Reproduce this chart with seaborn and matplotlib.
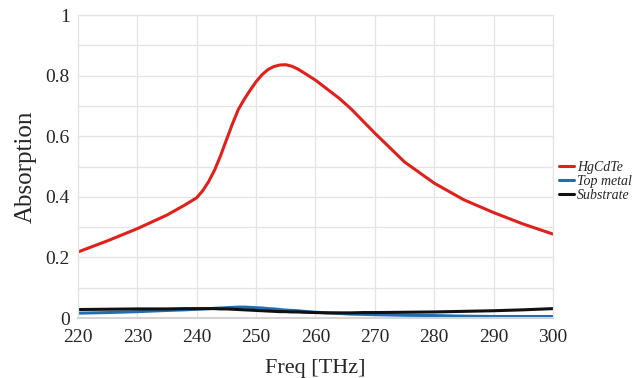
import matplotlib
matplotlib.use("Agg")
import matplotlib.pyplot as plt
from matplotlib.ticker import FuncFormatter, MultipleLocator
import pandas as pd
import seaborn as sns

freq = [220, 225, 230, 235, 238, 240, 241, 242, 243, 244, 245, 246, 247, 248,
        249, 250, 251, 252, 253, 254, 255, 256, 257, 258, 260, 262, 264, 266,
        268, 270, 275, 280, 285, 290, 295, 300]
hgcdte = [0.218, 0.255, 0.295, 0.340, 0.373, 0.397, 0.420, 0.450, 0.488, 0.535,
          0.588, 0.640, 0.688, 0.722, 0.752, 0.780, 0.803, 0.820, 0.830, 0.835,
          0.836, 0.831, 0.822, 0.810, 0.785, 0.755, 0.725, 0.690, 0.650, 0.610,
          0.515, 0.445, 0.390, 0.348, 0.310, 0.277]
top_metal = [0.016, 0.018, 0.021, 0.025, 0.027, 0.029, 0.030, 0.031, 0.032, 0.033,
             0.034, 0.035, 0.036, 0.036, 0.035, 0.034, 0.033, 0.031, 0.030, 0.028,
             0.026, 0.025, 0.024, 0.022, 0.019, 0.017, 0.015, 0.013, 0.012, 0.011,
             0.009, 0.008, 0.006, 0.005, 0.005, 0.005]
substrate = [0.028, 0.029, 0.030, 0.030, 0.031, 0.031, 0.031, 0.031, 0.031, 0.030,
             0.030, 0.029, 0.028, 0.027, 0.026, 0.025, 0.024, 0.023, 0.022, 0.021,
             0.021, 0.020, 0.020, 0.019, 0.018, 0.017, 0.017, 0.017, 0.018, 0.018,
             0.019, 0.020, 0.022, 0.024, 0.027, 0.031]

series = ["HgCdTe", "Top metal", "Substrate"]
colors = ["#e0201b", "#1f6db3", "#111111"]

df = pd.concat([
    pd.DataFrame({"freq": freq, "absorption": vals, "layer": name})
    for name, vals in zip(series, [hgcdte, top_metal, substrate])
])

sns.set_style("white")
plt.rcParams["font.family"] = ["Liberation Serif", "DejaVu Serif"]

fig = plt.figure(figsize=(6.43, 3.78), dpi=100)
ax = fig.add_axes([0.1213, 0.1587, 0.7387, 0.8016])

sns.lineplot(data=df, x="freq", y="absorption", hue="layer", hue_order=series,
             palette=colors, linewidth=2.2, ax=ax, legend=True)

ax.set_xlim(220, 300)
ax.set_ylim(0, 1)
ax.xaxis.set_major_locator(MultipleLocator(10))
ax.yaxis.set_major_locator(MultipleLocator(0.2))
ax.yaxis.set_minor_locator(MultipleLocator(0.1))
ax.yaxis.set_major_formatter(FuncFormatter(lambda v, p: f"{v:g}"))
ax.grid(which="both", color="#e4e4e4", linewidth=0.9)
ax.set_axisbelow(True)
ax.tick_params(axis="both", which="both", length=0, labelsize=14)
ax.tick_params(axis="x", pad=8)
ax.tick_params(axis="y", pad=6)

for side in ["top", "right", "left"]:
    ax.spines[side].set_color("#e4e4e4")
    ax.spines[side].set_linewidth(0.9)
ax.spines["bottom"].set_color("#d4d4d4")
ax.spines["bottom"].set_linewidth(1.5)

ax.set_xlabel("Freq [THz]", fontsize=16, labelpad=9)
ax.set_ylabel("Absorption", fontsize=18, labelpad=6)

leg = ax.legend(loc="center left", bbox_to_anchor=(0.869, 0.52),
                bbox_transform=fig.transFigure, frameon=False,
                handlelength=1.1, handletextpad=0.2, labelspacing=0.1,
                borderaxespad=0, borderpad=0,
                prop={"family": "Liberation Serif", "style": "italic", "size": 10})
for line in leg.get_lines():
    line.set_linewidth(2.2)

fig.savefig("out.png", dpi=100)
plt.close(fig)
